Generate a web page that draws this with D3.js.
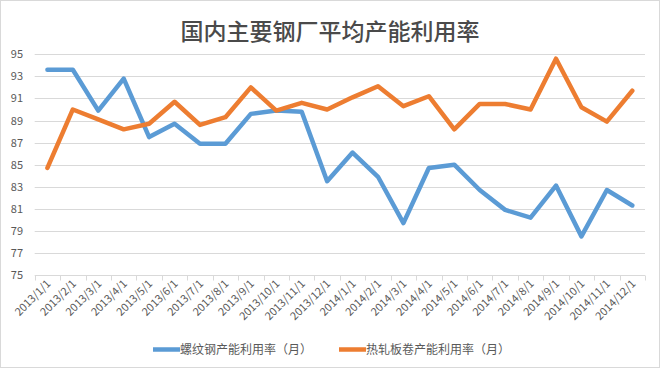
<!DOCTYPE html>
<html><head><meta charset="utf-8">
<script src="https://cdn.jsdelivr.net/npm/d3@7/dist/d3.min.js"></script>
<style>
html,body{margin:0;padding:0;background:#fff;}
svg{display:block;}
text{font-family:"Noto Sans CJK SC","Noto Sans",sans-serif;}
</style></head><body>
<svg id="c" width="660" height="369"></svg>
<script>
const title = "国内主要钢厂平均产能利用率";
const months = ["2013/1/1","2013/2/1","2013/3/1","2013/4/1","2013/5/1","2013/6/1","2013/7/1","2013/8/1","2013/9/1","2013/10/1","2013/11/1","2013/12/1",
"2014/1/1","2014/2/1","2014/3/1","2014/4/1","2014/5/1","2014/6/1","2014/7/1","2014/8/1","2014/9/1","2014/10/1","2014/11/1","2014/12/1"];
const rebarName = "螺纹钢产能利用率（月）";
const rebar = [93.6,93.6,89.9,92.8,87.5,88.7,86.9,86.9,89.6,89.9,89.8,83.5,86.1,83.9,79.7,84.7,85.0,82.7,80.9,80.2,83.1,78.5,82.7,81.3];
const coilName = "热轧板卷产能利用率（月）";
const coil = [84.7,90.0,89.1,88.2,88.7,90.7,88.6,89.3,92.0,89.9,90.6,90.0,91.1,92.1,90.3,91.2,88.2,90.5,90.5,90.0,94.6,90.2,88.9,91.7];
const yTicks = [75,77,79,81,83,85,87,89,91,93,95];
const colors = ["#5B9BD5","#ED7D31"];

const svg = d3.select("#c");
svg.append("rect").attr("x",0.5).attr("y",0.5).attr("width",659).attr("height",367)
  .attr("fill","#fff").attr("stroke","#D9D9D9");

const L=34.7, R=645, T=54.3, B=275;
const x = d3.scaleBand().domain(months).range([L,R]);
const y = d3.scaleLinear().domain([75,95]).range([B,T]);

svg.append("text").attr("x",330).attr("y",40).attr("text-anchor","middle")
  .attr("font-size",23).attr("font-weight",500).attr("fill","#4a4a4a").text(title);

// gridlines
svg.append("g").selectAll("line").data(yTicks.slice(1)).join("line")
  .attr("x1",L).attr("x2",R).attr("y1",d=>Math.round(y(d))+0.5).attr("y2",d=>Math.round(y(d))+0.5)
  .attr("stroke","#D9D9D9").attr("stroke-width",1);

// y labels
svg.append("g").selectAll("text").data(yTicks).join("text")
  .attr("x",23).attr("y",d=>y(d)+4).attr("text-anchor","end")
  .attr("font-size",11).attr("fill","#595959").text(d=>d);

// x axis
const xa = svg.append("g").attr("transform",`translate(0,${Math.round(B)+0.5})`);
xa.append("line").attr("x1",L).attr("x2",R).attr("stroke","#D9D9D9");
const bounds = months.map(m=>x(m)).concat([R]);
xa.selectAll("line.t").data(bounds).join("line").attr("class","t")
  .attr("x1",d=>Math.round(d)+0.5).attr("x2",d=>Math.round(d)+0.5).attr("y1",0).attr("y2",5).attr("stroke","#D9D9D9");
xa.selectAll("text").data(months).join("text")
  .attr("transform",d=>`translate(${x(d)+x.bandwidth()/2+4},9) rotate(-45)`)
  .attr("text-anchor","end").attr("font-size",11).attr("fill","#595959").text(d=>d);

// lines
const line = d3.line().x((d,i)=>x(months[i])+x.bandwidth()/2).y(d=>y(d));
[rebar,coil].forEach((s,k)=>{
  svg.append("path").attr("d",line(s)).attr("fill","none").attr("stroke",colors[k])
    .attr("stroke-width",4.5).attr("stroke-linejoin","round").attr("stroke-linecap","round");
});

// legend
const legend = [{n:rebarName,c:colors[0],x:153},{n:coilName,c:colors[1],x:339}];
const lg = svg.append("g");
legend.forEach(l=>{
  lg.append("line").attr("x1",l.x).attr("x2",l.x+27).attr("y1",349.5).attr("y2",349.5)
    .attr("stroke",l.c).attr("stroke-width",4.5);
  lg.append("text").attr("x",l.x+27).attr("y",354).attr("font-size",12).attr("fill","#595959").text(l.n);
});
</script></body></html>
